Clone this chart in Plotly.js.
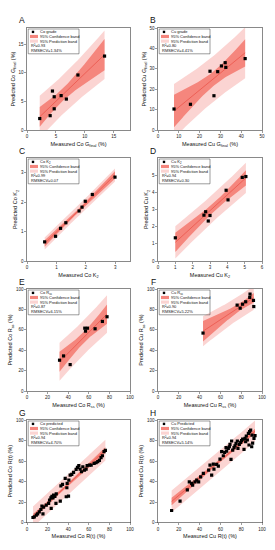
<!DOCTYPE html>
<html><head><meta charset="utf-8">
<script src="https://cdn.plot.ly/plotly-3.0.1.min.js"></script>
<style>html,body{margin:0;padding:0;background:#fff}#chart{width:275px;height:550px}</style>
</head><body><div id="chart"></div>
<script>
// ---------- labels ----------
const panelLetters = ['A','B','C','D','E','F','G','H'];
const seriesNames = ['Co grade','Cu grade','Co K<sub>2</sub>','Cu K<sub>2</sub>','Co R<sub>ss</sub>','Cu R<sub>ss</sub>','Co predicted','Cu Predicted'];
const r2Labels = ['R²=0.93','R²=0.80','R²=0.99','R²=0.94','R²=0.87','R²=0.90','R²=0.94','R²=0.94'];
const rmsecvLabels = ['RMSECV=1.34%','RMSECV=4.41%','RMSECV=0.07','RMSECV=0.30','RMSECV=6.15%','RMSECV=5.22%','RMSECV=4.70%','RMSECV=5.14%'];
const xTitles = ['Measured Co G<sub>final</sub> (%)','Measured Cu G<sub>final</sub> (%)','Measured Co K<sub>2</sub>','Measured Cu K<sub>2</sub>','Measured Co R<sub>ss</sub> (%)','Measured Cu R<sub>ss</sub> (%)','Measured Co R(t) (%)','Measured Cu R(t) (%)'];
const yTitles = ['Predicted Co G<sub>final</sub> (%)','Predicted Cu G<sub>final</sub> (%)','Predicted Co K<sub>2</sub>','Predicted Cu K<sub>2</sub>','Predicted Co R<sub>ss</sub> (%)','Predicted Cu R<sub>ss</sub> (%)','Predicted Co R(t) (%)','Predicted Cu R(t) (%)'];
const legendBandLabels = ['95% Confidence band','95% Prediction band'];

// ---------- tick labels ----------
const ticksA = [0,5,10,15];
const ticksB = [0,10,20,30,40,50];
const ticksC = [0,1,2,3];
const ticksDx = [0,1,2,3,4,5,6];
const ticksDy = [0,1,2,3,4,5];
const ticksPct = [0,20,40,60,80,100];

// ---------- data (measured, predicted) ----------
const coGradeMeasured  = [2.2,4.0,4.4,4.7,4.7,5.9,6.8,8.8,13.4];
const coGradePredicted = [2.0,2.5,6.8,5.8,3.7,6.0,5.4,9.6,12.9];

const cuGradeMeasured  = [7.7,15.6,25.0,26.9,28.7,30.5,32.3,32.6,41.9];
const cuGradePredicted = [10.3,12.6,28.8,16.8,28.6,31.4,33.0,30.7,35.0];

const coK2Measured  = [0.60,0.97,1.14,1.32,1.77,1.87,1.98,2.22,2.99];
const coK2Predicted = [0.65,0.84,1.11,1.30,1.70,1.83,2.03,2.26,2.85];

const cuK2Measured  = [1.0,2.65,2.75,3.0,2.9,3.93,4.04,4.86,5.07];
const cuK2Predicted = [1.35,2.67,2.87,2.65,2.33,4.12,3.56,4.87,4.92];

const coRssMeasured  = [31.6,35.5,41.9,56.1,56.8,58.7,66.1,73.2,77.7];
const coRssPredicted = [30.2,34.4,25.9,61.6,58.7,61.6,61.0,68.2,72.8];

const cuRssMeasured  = [43.3,76.1,79.0,81.3,84.3,88.5,88.2,91.8,92.1];
const cuRssPredicted = [56.8,84.2,81.2,85.1,87.5,95.0,91.7,88.8,82.8];

const coRtMeasured  = [5.8,7.1,9.0,10.3,11.9,13.5,14.5,16.1,15.5,18.7,21.0,21.9,23.2,24.2,25.2,25.8,27.1,28.4,23.5,28.1,32.3,32.9,34.5,37.1,38.1,40.3,38.7,39.0,40.6,41.9,43.5,45.2,47.7,49.0,50.3,51.6,52.9,54.2,55.8,57.4,58.4,60.6,62.3,65.2,67.1,68.7,70.3,71.9,73.2,74.8,76.1];
const coRtPredicted = [4.9,5.5,7.2,8.5,10.4,12.7,16.0,15.0,8.5,16.9,18.6,21.8,24.1,25.4,24.1,26.7,25.4,28.0,13.7,18.6,20.8,35.8,37.1,43.0,25.1,25.7,33.9,38.1,41.4,46.3,46.9,48.9,51.8,53.7,55.4,52.1,49.5,54.4,51.1,52.1,55.4,56.0,56.0,57.7,58.3,59.3,60.6,63.2,65.1,69.1,70.4];

const cuRtMeasured  = [13.1,21.2,28.2,30.1,32.4,33.3,35.6,37.2,39.1,41.0,43.6,48.7,50.0,51.6,53.8,53.2,56.4,58.0,59.6,61.2,62.8,64.1,65.4,66.0,67.6,68.6,69.2,70.2,70.8,71.8,73.1,74.0,75.0,76.3,76.9,78.2,79.5,80.4,81.4,82.7,83.7,84.3,84.9,85.9,86.9,87.5,88.1,89.1,90.1,90.4,91.0,92.3,93.3];
const cuRtPredicted = [11.7,20.8,31.9,39.7,38.1,36.5,39.7,41.4,39.7,44.6,47.9,51.1,56.0,46.3,52.1,57.0,56.7,55.0,61.9,69.1,65.1,68.4,73.0,69.7,72.3,73.9,76.2,61.6,79.5,70.7,73.0,74.9,77.2,79.5,72.3,76.2,78.2,79.8,81.4,71.3,82.1,78.8,84.4,80.5,87.0,75.6,88.6,90.2,73.9,85.3,77.5,82.1,84.7];

// ---------- assemble ----------
const panels = [
  {mx: coGradeMeasured, py: coGradePredicted, range:[0,17.8], xt: ticksA, yt: ticksA},
  {mx: cuGradeMeasured, py: cuGradePredicted, range:[0,50], xt: ticksB, yt: ticksB},
  {mx: coK2Measured, py: coK2Predicted, range:[0,3.5], xt: ticksC, yt: ticksC},
  {mx: cuK2Measured, py: cuK2Predicted, range:[0,6], xt: ticksDx, yt: ticksDy},
  {mx: coRssMeasured, py: coRssPredicted, range:[0,100], xt: ticksPct, yt: ticksPct},
  {mx: cuRssMeasured, py: cuRssPredicted, range:[0,100], xt: ticksPct, yt: ticksPct},
  {mx: coRtMeasured, py: coRtPredicted, range:[0,100], xt: ticksPct, yt: ticksPct},
  {mx: cuRtMeasured, py: cuRtPredicted, range:[0,100], xt: ticksPct, yt: ticksPct}
];

const W = 275, H = 550;
const colPx = [[27,130],[158,262]];
const rowPx = [[28,130],[158,261],[289,391],[420,522.5]];

const predColor = '#fbd4d2';
const confColor = '#f5867d';
const fitColor = '#e8453b';
const axisColor = '#3a3a3a';
const FONT = 'Liberation Sans, Arial, sans-serif';

function tCrit(df){
  const table = {7:2.3646, 8:2.306};
  if (table[df]) return table[df];
  const z = 1.959964;
  return z + (z**3 + z)/(4*df) + (5*z**5 + 16*z**3 + 3*z)/(96*df*df);
}

function bands(xs, ys){
  const n = xs.length;
  const mx = xs.reduce((a,b)=>a+b,0)/n, my = ys.reduce((a,b)=>a+b,0)/n;
  let sxx=0, sxy=0;
  for (let i=0;i<n;i++){ sxx += (xs[i]-mx)**2; sxy += (xs[i]-mx)*(ys[i]-my); }
  const b = sxy/sxx, a = my - b*mx;
  let sse = 0;
  for (let i=0;i<n;i++) sse += (ys[i]-(a+b*xs[i]))**2;
  const s = Math.sqrt(sse/(n-2)), t = tCrit(n-2);
  const x0 = Math.min(...xs), x1 = Math.max(...xs);
  const out = {x:[], fit:[], cl:[], ch:[], pl:[], ph:[]};
  const steps = 60;
  for (let k=0;k<=steps;k++){
    const x = x0 + (x1-x0)*k/steps;
    const f = a + b*x;
    const c = t*s*Math.sqrt(1/n + (x-mx)**2/sxx);
    const p = t*s*Math.sqrt(1 + 1/n + (x-mx)**2/sxx);
    out.x.push(x); out.fit.push(f); out.cl.push(f-c); out.ch.push(f+c); out.pl.push(f-p); out.ph.push(f+p);
  }
  return out;
}

const traces = [], shapes = [], annotations = [];
const layout = {
  width: W, height: H, margin:{l:0,r:0,t:0,b:0},
  paper_bgcolor:'#fff', plot_bgcolor:'#fff', showlegend:false,
  font:{family: FONT, color:'#222'}
};

panels.forEach((p, i) => {
  const s = i === 0 ? '' : String(i+1);
  const xa = 'x'+s, ya = 'y'+s;
  const col = i % 2, row = Math.floor(i/2);
  const [L, R] = colPx[col], [T, B] = rowPx[row];
  const pw = R - L, ph = B - T;

  layout['xaxis'+s] = {
    domain:[L/W, R/W], anchor: ya, range: p.range, tickvals: p.xt,
    title:{text: xTitles[i], font:{size:5.5, family: FONT, color:'#111'}, standoff:3},
    showline:true, linecolor: axisColor, linewidth:0.6, mirror:true,
    ticks:'outside', ticklen:2, tickwidth:0.5, tickcolor: axisColor,
    tickfont:{size:4.5, family: FONT, color:'#222'}, showgrid:false, zeroline:false, fixedrange:true
  };
  layout['yaxis'+s] = {
    domain:[1-B/H, 1-T/H], anchor: xa, range: p.range, tickvals: p.yt,
    title:{text: yTitles[i], font:{size:5.5, family: FONT, color:'#111'}, standoff:2},
    showline:true, linecolor: axisColor, linewidth:0.6, mirror:true,
    ticks:'outside', ticklen:2, tickwidth:0.5, tickcolor: axisColor,
    tickfont:{size:4.5, family: FONT, color:'#222'}, showgrid:false, zeroline:false, fixedrange:true
  };

  const bd = bands(p.mx, p.py);
  traces.push({x: bd.x.concat(bd.x.slice().reverse()), y: bd.ph.concat(bd.pl.slice().reverse()),
    xaxis: xa, yaxis: ya, mode:'lines', fill:'toself', fillcolor: predColor, line:{width:0}, hoverinfo:'skip'});
  traces.push({x: bd.x.concat(bd.x.slice().reverse()), y: bd.ch.concat(bd.cl.slice().reverse()),
    xaxis: xa, yaxis: ya, mode:'lines', fill:'toself', fillcolor: confColor, line:{width:0}, hoverinfo:'skip'});
  traces.push({x: bd.x, y: bd.fit, xaxis: xa, yaxis: ya, mode:'lines', line:{color: fitColor, width:0.6}, hoverinfo:'skip'});
  traces.push({x: p.mx, y: p.py, xaxis: xa, yaxis: ya, mode:'markers',
    marker:{symbol:'square', size:3.2, color:'#000', line:{width:0}}});

  // panel letter
  annotations.push({xref:'paper', yref:'paper', x:(L-5)/W, y:1-(T-7.5)/H, text: panelLetters[i],
    showarrow:false, xanchor:'center', yanchor:'middle', font:{size:8.5, family: FONT, color:'#111'}});

  // legend box
  const xd = px => px/pw, yd = py => 1 - py/ph;
  const xdr = xa + ' domain', ydr = ya + ' domain';
  shapes.push({type:'rect', xref: xdr, yref: ydr, x0: xd(1.2), x1: xd(52), y0: yd(25.8), y1: yd(1),
    line:{color: axisColor, width:0.5}, fillcolor:'rgba(255,255,255,0)'});
  const rows = [3.9, 8.5, 13.1, 17.8, 22.5];
  shapes.push({type:'rect', xref: xdr, yref: ydr, x0: xd(4.8), x1: xd(7.2), y0: yd(rows[0]+1.2), y1: yd(rows[0]-1.2),
    line:{width:0}, fillcolor:'#000'});
  shapes.push({type:'rect', xref: xdr, yref: ydr, x0: xd(3), x1: xd(11), y0: yd(rows[1]+1.6), y1: yd(rows[1]-1.6),
    line:{width:0}, fillcolor: confColor});
  shapes.push({type:'rect', xref: xdr, yref: ydr, x0: xd(3), x1: xd(11), y0: yd(rows[2]+1.6), y1: yd(rows[2]-1.6),
    line:{width:0}, fillcolor: predColor});
  const legTexts = [[seriesNames[i], 12], [legendBandLabels[0], 12], [legendBandLabels[1], 12], [r2Labels[i], 2.5], [rmsecvLabels[i], 2.5]];
  legTexts.forEach(([txt, xo], k) => {
    annotations.push({xref: xdr, yref: ydr, x: xd(xo), y: yd(rows[k]), text: txt, showarrow:false,
      xanchor:'left', yanchor:'middle', borderpad:0, font:{size:4, family: FONT, color:'#111'}});
  });
});

layout.shapes = shapes;
layout.annotations = annotations;
Plotly.newPlot('chart', traces, layout, {staticPlot:true, displayModeBar:false});
</script>
</body></html>
